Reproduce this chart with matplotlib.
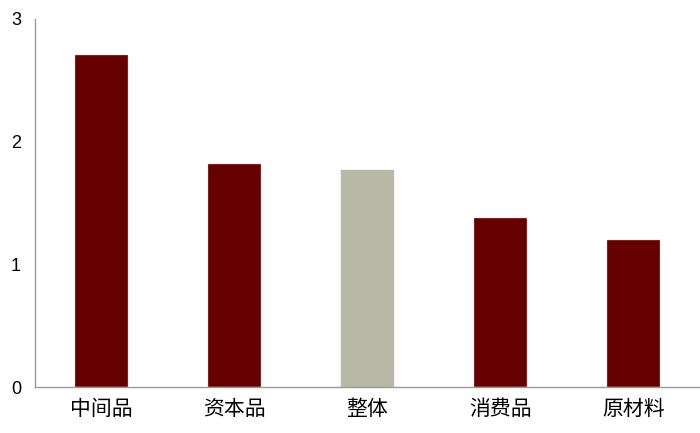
import matplotlib
matplotlib.use("Agg")
import matplotlib.pyplot as plt

categories = ["中间品", "资本品", "整体", "消费品", "原材料"]
values = [2.70, 1.82, 1.77, 1.38, 1.20]
colors = ["#640000", "#640000", "#B8B8A6", "#640000", "#640000"]

plt.rcParams['font.family'] = ['Liberation Sans', 'Noto Sans CJK SC', 'DejaVu Sans']


def main():
    fig = plt.figure(figsize=(7, 4.33), dpi=100)
    ax = fig.add_axes([0.05, 0.1062, 0.95, 0.8508])

    x = range(len(categories))
    ax.bar(x, values, width=0.4, color=colors, edgecolor="#d9b0b0", linewidth=0.3, zorder=2)

    ax.set_xlim(-0.5, len(categories) - 0.5)
    ax.set_ylim(0, 3)
    ax.set_yticks([0, 1, 2, 3])
    ax.set_xticks(list(x))
    ax.set_xticklabels(categories, family=['Noto Sans CJK SC', 'DejaVu Sans'], fontsize=15)

    for s in ["top", "right"]:
        ax.spines[s].set_visible(False)
    for s in ["left", "bottom"]:
        ax.spines[s].set_color("#999999")
        ax.spines[s].set_linewidth(1.0)

    ax.tick_params(axis="both", length=0, colors="black")
    ax.tick_params(axis="y", pad=10, labelsize=13)
    ax.tick_params(axis="x", pad=8)

    fig.savefig("out.png", dpi=100)


if __name__ == "__main__":
    main()
